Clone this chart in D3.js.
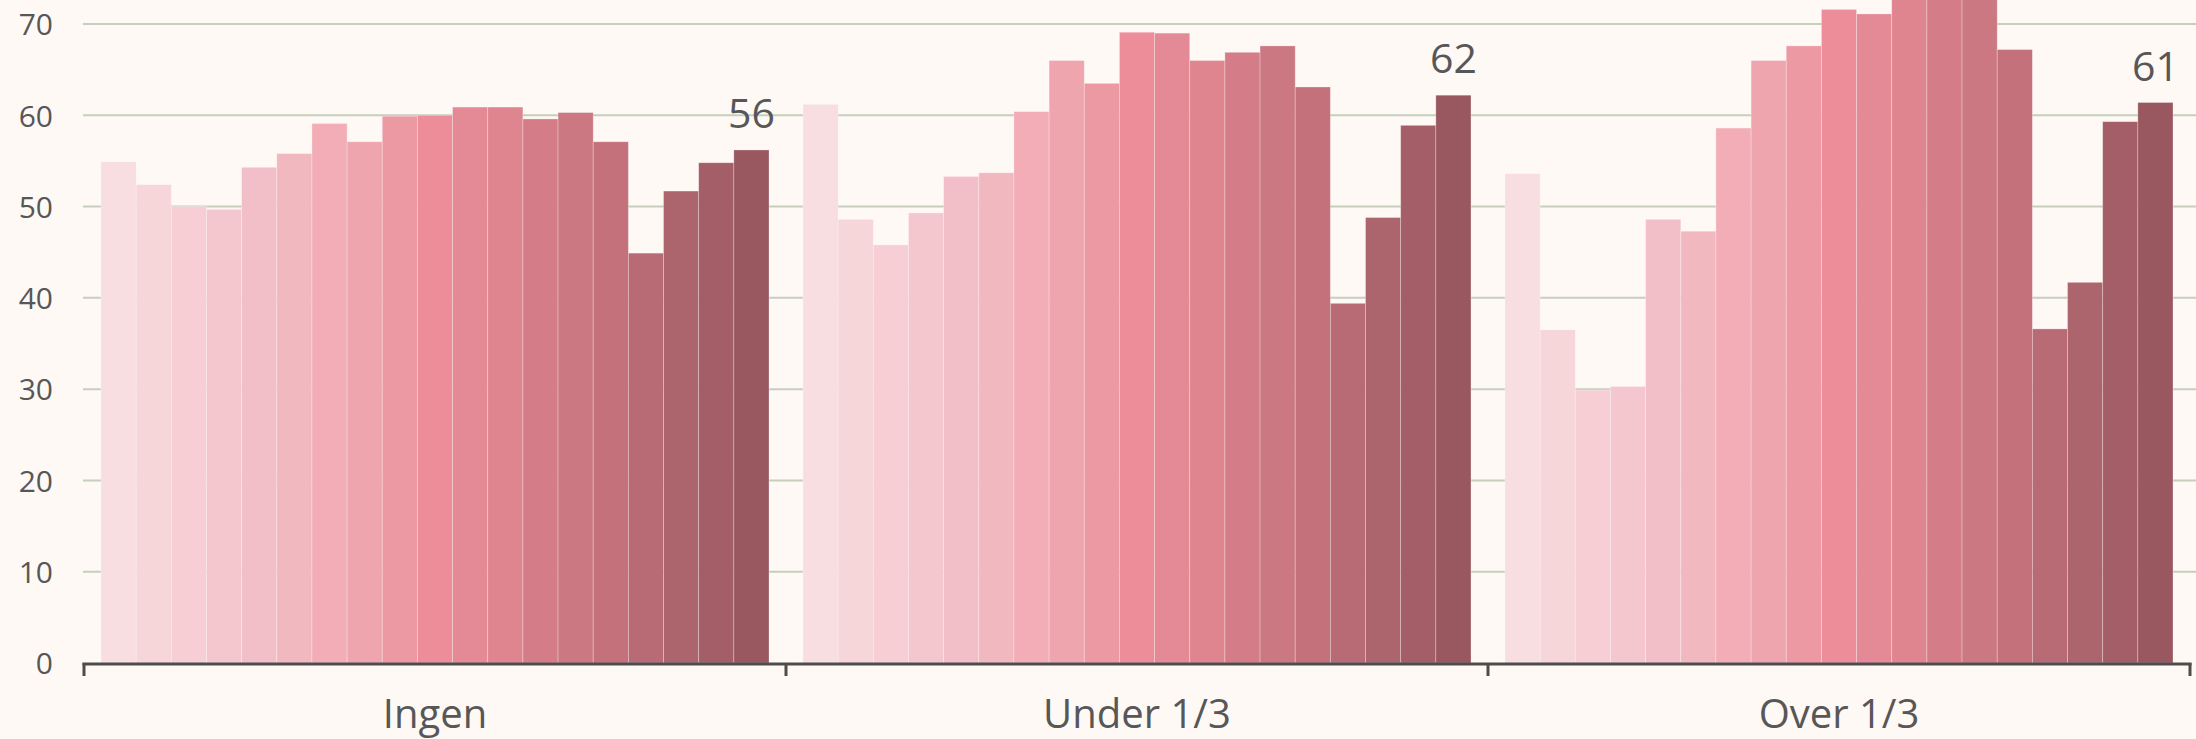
<!DOCTYPE html>
<html>
<head>
<meta charset="utf-8">
<script src="https://cdn.jsdelivr.net/npm/d3@7"></script>
<style>
html,body{margin:0;padding:0;background:#fef9f5;}
svg{display:block;}
text{font-family:"Open Sans",Lato,sans-serif;fill:#575757;}
</style>
</head>
<body>
<svg id="chart" width="2196" height="739"></svg>
<script>
const groups = ["Ingen", "Under 1/3", "Over 1/3"];
const ingen   = [54.9, 52.4, 50.0, 49.7, 54.3, 55.8, 59.1, 57.1, 59.9, 60.0, 60.9, 60.9, 59.6, 60.3, 57.1, 44.9, 51.7, 54.8, 56.2];
const under13 = [61.2, 48.6, 45.8, 49.3, 53.3, 53.7, 60.4, 66.0, 63.5, 69.1, 69.0, 66.0, 66.9, 67.6, 63.1, 39.4, 48.8, 58.9, 62.2];
const over13  = [53.6, 36.5, 29.9, 30.3, 48.6, 47.3, 58.6, 66.0, 67.6, 71.6, 71.1, 74.0, 75.0, 74.0, 67.2, 36.6, 41.7, 59.3, 61.4];
const valueLabels = ["56", "62", "61"];
const yTicks = [0, 10, 20, 30, 40, 50, 60, 70];
const barColors = ["#f8dde1","#f6d6d9","#f6ced4","#f4c7ce","#f2bec7","#f1b8bf","#f2adb7","#efa5ae","#ec99a4","#ec8d99","#e48996","#de8590","#d47d89","#cc7882","#c4717b","#b96b75","#ad656d","#a35e67","#99575f"];

const seriesByGroup = [ingen, under13, over13];

const svg = d3.select("#chart");
const W = 2196, H = 739;
const left = 84, right = 2190;

const x0 = d3.scaleBand().domain(groups).range([left, right]).padding(0);
const bw = x0.bandwidth();
const inset = 17;
const x1 = d3.scaleBand().domain(d3.range(ingen.length)).range([inset, bw - inset]).padding(0);
const y = d3.scaleLinear().domain([0, 70]).range([663, 24]);

// gridlines
svg.append("g").selectAll("line").data(yTicks.filter(d => d > 0)).join("line")
  .attr("x1", left - 1).attr("x2", W)
  .attr("y1", d => y(d)).attr("y2", d => y(d))
  .attr("stroke", "#c5cfbb").attr("stroke-width", 2);

// y axis labels
const yAxis = d3.axisLeft(y).tickValues(yTicks).tickSize(0).tickPadding(0);
const yg = svg.append("g").attr("transform", "translate(53,0)").call(yAxis);
yg.select(".domain").remove();
yg.selectAll("text").attr("font-size", 30).attr("fill", "#575757")
  .style("font-family", "'Open Sans', Lato, sans-serif").attr("dy", "0.36em");

// bars
const gg = svg.append("g").selectAll("g").data(groups).join("g")
  .attr("transform", d => `translate(${x0(d)},0)`);
gg.selectAll("rect").data((g, gi) => seriesByGroup[gi].map((v, i) => ({v, i})))
  .join("rect")
  .attr("x", d => x1(d.i))
  .attr("width", x1.bandwidth())
  .attr("y", d => y(d.v))
  .attr("height", d => y(0) - y(d.v))
  .attr("fill", d => barColors[d.i])
  .attr("stroke", "rgba(255,255,255,0.35)")
  .attr("stroke-width", 0.8);

// value labels on last bar
gg.append("text")
  .attr("x", x1(ingen.length - 1) + x1.bandwidth() / 2)
  .attr("y", (g, gi) => y(seriesByGroup[gi][ingen.length - 1]) - 22)
  .attr("text-anchor", "middle")
  .attr("font-size", 41)
  .text((g, gi) => valueLabels[gi]);

// x axis
const xa = svg.append("g");
xa.append("line").attr("x1", left - 1.5).attr("x2", right + 1.5)
  .attr("y1", y(0) + 1).attr("y2", y(0) + 1)
  .attr("stroke", "#4d4d4d").attr("stroke-width", 3);
const bounds = groups.map(g => x0(g)).concat([x0(groups[groups.length - 1]) + bw]);
xa.selectAll("line.tick").data(bounds).join("line").attr("class", "tick")
  .attr("x1", d => d).attr("x2", d => d)
  .attr("y1", y(0)).attr("y2", y(0) + 13)
  .attr("stroke", "#4d4d4d").attr("stroke-width", 3);
xa.selectAll("text").data(groups).join("text")
  .attr("x", d => x0(d) + bw / 2)
  .attr("y", 728)
  .attr("text-anchor", "middle")
  .attr("font-size", 40)
  .text(d => d);
</script>
</body>
</html>
